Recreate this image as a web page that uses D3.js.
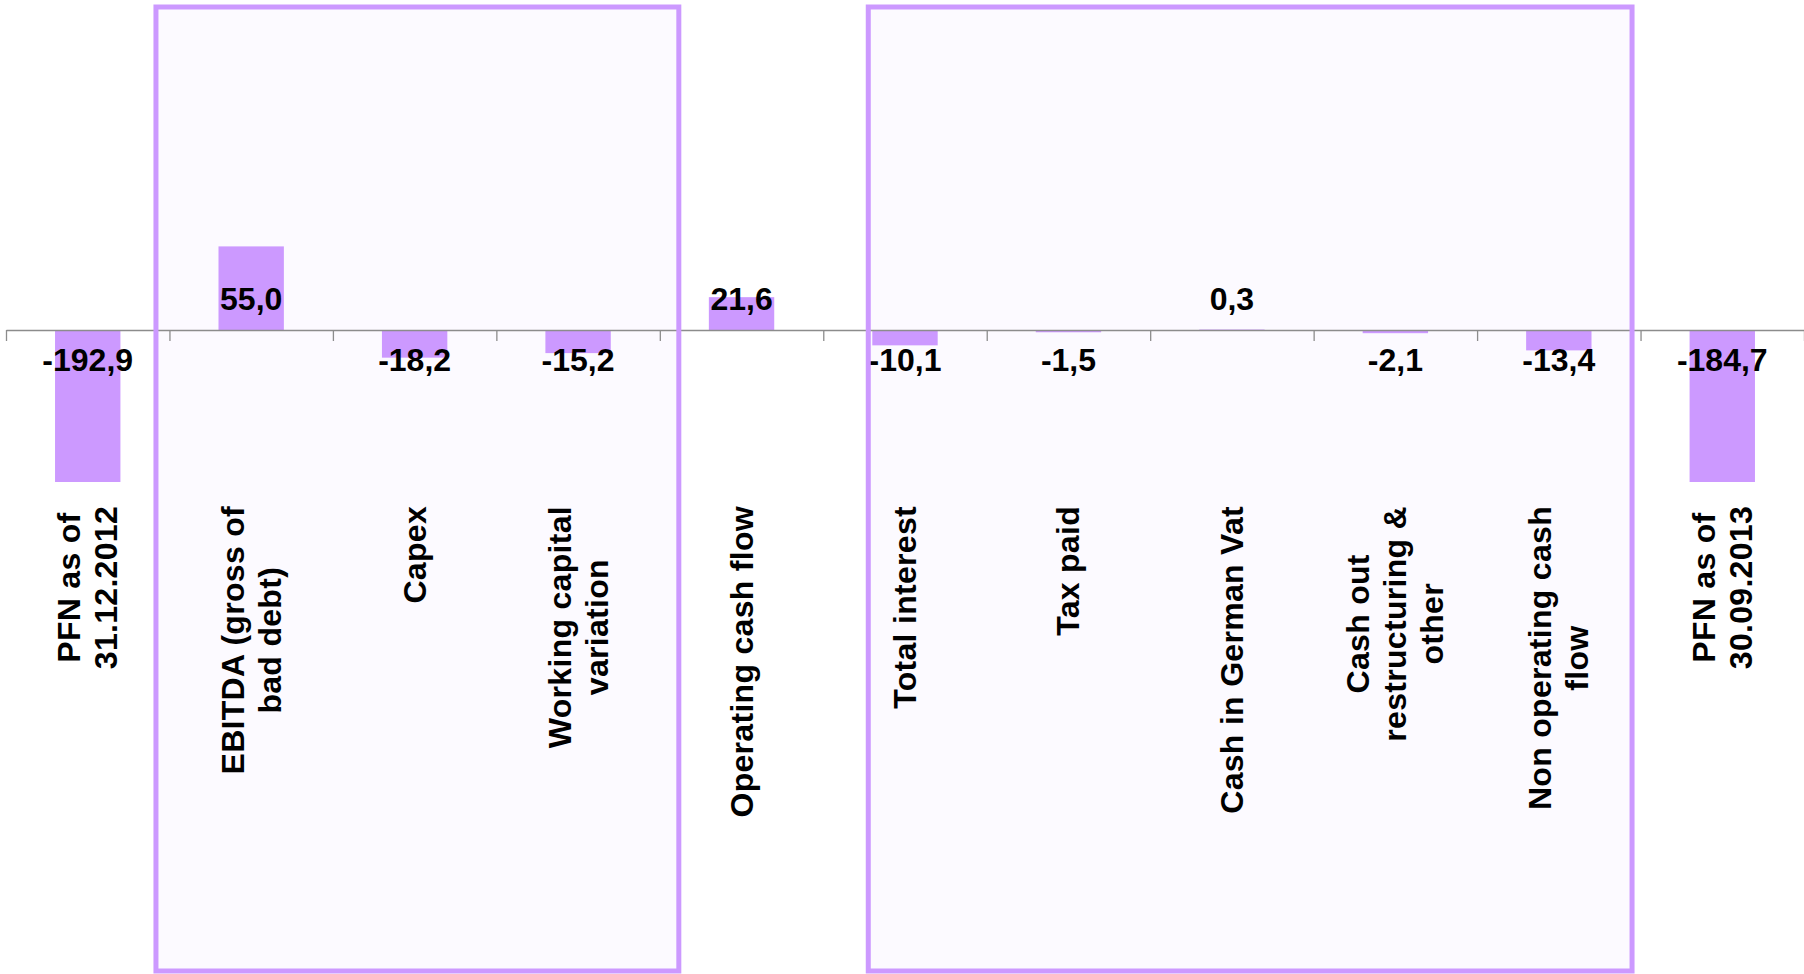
<!DOCTYPE html>
<html>
<head>
<meta charset="utf-8">
<script src="https://cdn.jsdelivr.net/npm/d3@7"></script>
<style>
  html, body { margin: 0; padding: 0; background: #ffffff; }
  svg { display: block; }
</style>
</head>
<body>
<script>
// ---------------- DATA ----------------
const categories = [
  ["PFN as of", "31.12.2012"],
  ["EBITDA (gross of", "bad debt)"],
  ["Capex"],
  ["Working capital", "variation"],
  ["Operating cash flow"],
  ["Total interest"],
  ["Tax paid"],
  ["Cash in German Vat"],
  ["Cash out", "restructuring &", "other"],
  ["Non operating cash", "flow"],
  ["PFN as of", "30.09.2013"]
];
const values = [-192.9, 55.0, -18.2, -15.2, 21.6, -10.1, -1.5, 0.3, -2.1, -13.4, -184.7];
const yDomain = [-100, 200];
// highlighted groups: first and last category index of each framed group
const groups = [
  { from: 1, to: 3, padLeft: 13.5, padRight: 19 },
  { from: 5, to: 9, padLeft: -45, padRight: -8.5 }
];

// ---------------- LAYOUT ----------------
const W = 1804, H = 974;
const axisLeft = 6, axisRight = 1804;
const zeroY = 330, bottomY = 482;
const barColor = "#CC99FF";
const boxFill = "#FCFAFF";
const fontFamily = "'Liberation Sans', Arial, sans-serif";
const fontSize = 32;

const svg = d3.select("body").append("svg")
  .attr("width", W).attr("height", H)
  .style("background", "#ffffff");

const idx = d3.range(categories.length);
const x = d3.scaleBand().domain(idx).range([axisLeft, axisRight]).padding(0);
const bw = x.bandwidth();
const barW = bw * 0.4;

// y scale: 0 -> zeroY, -100 -> bottomY
const pxPerUnit = (bottomY - zeroY) / (0 - yDomain[0]);
const y = d3.scaleLinear().domain(yDomain)
  .range([bottomY, zeroY - yDomain[1] * pxPerUnit]);

const fmt = d3.formatLocale({ decimal: ",", thousands: ".", grouping: [3], currency: ["", ""] }).format(".1f");

// group box fills (behind)
const boxTop = 7, boxBottom = 971;
const boxX0 = g => x(g.from) - g.padLeft;
const boxX1 = g => x(g.to) + bw + g.padRight;
svg.append("g").selectAll("rect").data(groups).join("rect")
  .attr("x", boxX0).attr("y", boxTop)
  .attr("width", g => boxX1(g) - boxX0(g))
  .attr("height", boxBottom - boxTop)
  .attr("fill", boxFill).attr("stroke", "none");

// clip path for plot area
svg.append("defs").append("clipPath").attr("id", "plotclip")
  .append("rect").attr("x", 0).attr("y", y(yDomain[1]))
  .attr("width", W).attr("height", y(yDomain[0]) - y(yDomain[1]));

// bars
svg.append("g").attr("clip-path", "url(#plotclip)")
  .selectAll("rect").data(idx).join("rect")
  .attr("x", i => x(i) + (bw - barW) / 2)
  .attr("y", i => y(Math.max(0, values[i])))
  .attr("width", barW)
  .attr("height", i => Math.abs(y(values[i]) - y(0)))
  .attr("fill", barColor);

// axis
const axisG = svg.append("g").attr("transform", `translate(0,${y(0)})`);
const tickScale = d3.scaleLinear().domain([0, categories.length]).range([axisLeft, axisRight]);
axisG.call(d3.axisBottom(tickScale).tickValues(d3.range(categories.length + 1))
  .tickSize(11).tickSizeOuter(0).tickFormat(""));
axisG.select(".domain").attr("stroke", "#8c8c8c").attr("stroke-width", 1.3);
axisG.selectAll(".tick line").attr("stroke", "#8c8c8c").attr("stroke-width", 1.3);

// value labels
svg.append("g").selectAll("text").data(idx).join("text")
  .attr("x", i => x(i) + bw / 2)
  .attr("y", i => values[i] >= 0 ? y(0) - 31 : y(0) + 30)
  .attr("text-anchor", "middle")
  .attr("dominant-baseline", "central")
  .attr("font-family", fontFamily)
  .attr("font-weight", "bold")
  .attr("font-size", fontSize)
  .attr("fill", "#000")
  .text(i => fmt(values[i]).replace("−", "-"));

// category labels (rotated)
const labelEndY = 506;
const lineH = 37;
const catG = svg.append("g").selectAll("g").data(idx).join("g")
  .attr("transform", i => `translate(${x(i) + bw / 2},${labelEndY}) rotate(-90)`);
catG.each(function (i) {
  const g = d3.select(this);
  const lines = categories[i];
  const n = lines.length;
  const texts = g.selectAll("text").data(lines).join("text")
    .attr("font-family", fontFamily)
    .attr("font-weight", "bold")
    .attr("font-size", fontSize)
    .attr("letter-spacing", 0.3)
    .attr("fill", "#000")
    .attr("text-anchor", "middle")
    .attr("dominant-baseline", "central")
    .attr("y", (d, k) => (k - (n - 1) / 2) * lineH)
    .text(d => d);
  let maxW = 0;
  texts.each(function () { maxW = Math.max(maxW, this.getComputedTextLength()); });
  texts.attr("x", -maxW / 2);
});

// group box strokes (on top)
svg.append("g").selectAll("rect").data(groups).join("rect")
  .attr("x", boxX0).attr("y", boxTop)
  .attr("width", g => boxX1(g) - boxX0(g))
  .attr("height", boxBottom - boxTop)
  .attr("fill", "none").attr("stroke", barColor).attr("stroke-width", 5);
</script>
</body>
</html>
